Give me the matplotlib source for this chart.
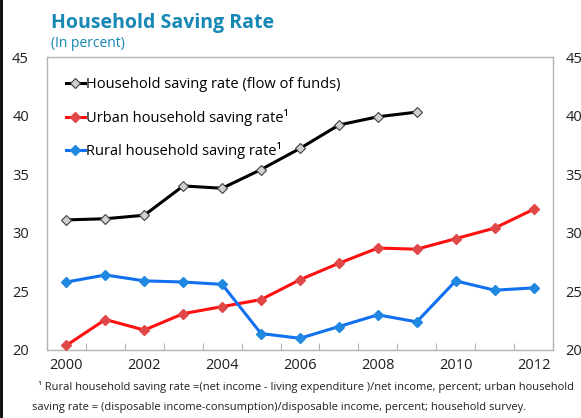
import numpy as np
import matplotlib
matplotlib.use("Agg")
import matplotlib.pyplot as plt
from matplotlib.lines import Line2D

plt.rcParams["font.family"] = ["Open Sans", "DejaVu Sans"]

years = list(range(2000, 2013))
flow_of_funds = [31.1, 31.2, 31.5, 34.0, 33.8, 35.4, 37.2, 39.2, 39.9, 40.3]
urban = [20.4, 22.6, 21.7, 23.1, 23.7, 24.3, 26.0, 27.4, 28.7, 28.6, 29.5, 30.4, 32.0]
rural = [25.8, 26.4, 25.9, 25.8, 25.6, 21.4, 21.0, 22.0, 23.0, 22.4, 25.9, 25.1, 25.3]
xtick_years = [2000, 2002, 2004, 2006, 2008, 2010, 2012]
yticks = [20, 25, 30, 35, 40, 45]

title_color = "#1787b4"
frame_color = "#b4b4b4"

fig = plt.figure(figsize=(5.81, 4.18), dpi=100)
ax = fig.add_axes([0.0809, 0.1627, 0.8709, 0.7009])

x = np.arange(len(years))
ax.plot(x[:len(flow_of_funds)], flow_of_funds, color="black", lw=2.2,
        marker="D", ms=5.5, mfc="#d0d0d0", mec="#404040", mew=0.8, zorder=3)
ax.plot(x, urban, color="#ff1010", lw=2.2,
        marker="D", ms=5.5, mfc="#e04848", mec="#e04848", zorder=3)
ax.plot(x, rural, color="#1070f0", lw=2.2,
        marker="D", ms=5.5, mfc="#2088e0", mec="#2088e0", zorder=3)

ax.set_xlim(-0.5, len(years) - 0.5)
ax.set_ylim(20, 45)
ax.set_yticks(yticks)
ax.tick_params(axis="y", length=0, pad=13, labelsize=10.5, colors="#202020")

# category boundary ticks (inside, no labels) + labels at points
ax.set_xticks(np.arange(len(years) + 1) - 0.5)
ax.set_xticklabels([])
ax.tick_params(axis="x", which="major", direction="in", length=5,
               color=frame_color)
ax.set_xticks([years.index(y) for y in xtick_years], minor=True)
ax.set_xticklabels([str(y) for y in xtick_years], minor=True)
ax.tick_params(axis="x", which="minor", length=0, pad=6, labelsize=10.5,
               labelcolor="#202020")

for s in ax.spines.values():
    s.set_color(frame_color)
    s.set_linewidth(1.0)

ax2 = ax.twinx()
ax2.set_ylim(20, 45)
ax2.set_yticks(yticks)
ax2.tick_params(axis="y", length=0, pad=9, labelsize=10.5, colors="#202020")
for s in ax2.spines.values():
    s.set_visible(False)

handles = [
    Line2D([], [], color="black", lw=2.2, marker="D", ms=5, mfc="#d0d0d0",
           mec="#404040", mew=0.8),
    Line2D([], [], color="#ff1010", lw=2.2, marker="D", ms=5, mfc="#e04848",
           mec="#e04848"),
    Line2D([], [], color="#1070f0", lw=2.2, marker="D", ms=5, mfc="#2088e0",
           mec="#2088e0"),
]
labels = [
    "Household saving rate (flow of funds)",
    "Urban household saving rate\u00b9",
    "Rural household saving rate\u00b9",
]
ax.legend(handles, labels, loc="upper left", bbox_to_anchor=(0.02, 0.962),
          frameon=False, fontsize=10.5, handlelength=1.3, handletextpad=0.1,
          labelspacing=1.15, borderaxespad=0.2)

fig.text(0.088, 0.945, "Household Saving Rate", fontsize=14, fontweight="bold",
         color=title_color, va="center")
fig.text(0.088, 0.895, "(In percent)", fontsize=10, color=title_color,
         va="center")

fig.text(0.066, 0.074,
         "\u00b9 Rural household saving rate =(net income - living expenditure )/net income, "
         "percent; urban household",
         fontsize=8, color="#202020", va="center")
fig.text(0.055, 0.026,
         "saving rate = (disposable income-consumption)/disposable income, "
         "percent; household survey.",
         fontsize=8, color="#202020", va="center")

fig.add_artist(Line2D([0.002, 0.002], [0, 1], transform=fig.transFigure,
                      color="black", lw=2))

fig.savefig("out.png", dpi=100)
